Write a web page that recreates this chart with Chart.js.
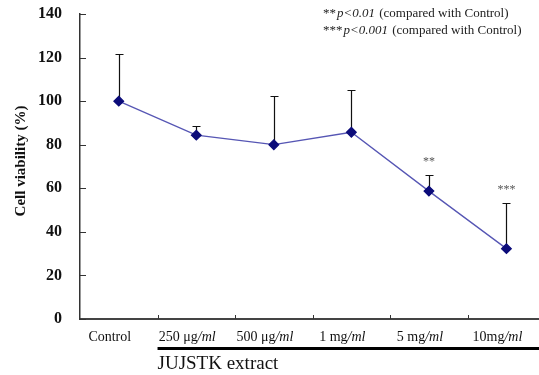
<!DOCTYPE html>
<html>
<head>
<meta charset="utf-8">
<script src="https://cdn.jsdelivr.net/npm/chart.js@4.4.0/dist/chart.umd.min.js"></script>
<style>
  html, body { margin: 0; padding: 0; background: #fff; }
  #wrap { width: 539px; height: 375px; position: relative; }
</style>
</head>
<body>
<div id="wrap"><canvas id="chart"></canvas></div>
<script>
// data
const categories = ['Control', '250 \u03bcg/ml', '500 \u03bcg/ml', '1 mg/ml', '5 mg/ml', '10mg/ml'];
const viability = [100, 84.4, 80.0, 85.7, 58.7, 32.3];
const sd = [21.5, 4, 22.3, 19.3, 7.3, 21];
const stars = ['', '', '', '', '**', '***'];
const yTicks = [0, 20, 40, 60, 80, 100, 120, 140];
const notes = [['**', 'p<0.01', ' (compared with Control)'], ['***', 'p<0.001', ' (compared with Control)']];
const yTitle = 'Cell viability (%)';
const groupLabel = 'JUJSTK extract';

const serif = '"Liberation Serif", "DejaVu Serif", serif';

// draws a label where "/ml" is set in italic
function drawCatLabel(ctx, text, cx, y) {
  let idx = text.indexOf('/ml');
  let parts = idx >= 0 ? [[text.slice(0, idx), false], [text.slice(idx), true]] : [[text, false]];
  let w = 0;
  parts.forEach(p => {
    ctx.font = (p[1] ? 'italic ' : '') + '14px ' + serif;
    w += ctx.measureText(p[0]).width;
  });
  let x = cx - w / 2;
  parts.forEach(p => {
    ctx.font = (p[1] ? 'italic ' : '') + '14px ' + serif;
    ctx.fillText(p[0], x, y);
    x += ctx.measureText(p[0]).width;
  });
}

const decor = {
  id: 'decor',
  beforeDatasetsDraw(chart) {
    const ctx = chart.ctx;
    const xs = chart.scales.x, ys = chart.scales.y;
    ctx.save();
    // error bars (upper only)
    ctx.strokeStyle = '#111';
    ctx.lineWidth = 1.2;
    viability.forEach((v, i) => {
      const x = Math.round(xs.getPixelForValue(i)) + 0.5;
      const y0 = ys.getPixelForValue(v);
      const y1 = Math.round(ys.getPixelForValue(v + sd[i])) + 0.5;
      ctx.beginPath();
      ctx.moveTo(x, y0); ctx.lineTo(x, y1);
      ctx.moveTo(x - 4, y1); ctx.lineTo(x + 4, y1);
      ctx.stroke();
    });
    ctx.restore();
  },
  afterDraw(chart) {
    const ctx = chart.ctx;
    const xs = chart.scales.x, ys = chart.scales.y;
    const a = chart.chartArea;
    ctx.save();
    ctx.strokeStyle = '#333';
    ctx.lineWidth = 1;
    // inward y ticks
    yTicks.forEach(t => {
      const y = Math.round(ys.getPixelForValue(t)) + 0.5;
      ctx.beginPath(); ctx.moveTo(a.left, y); ctx.lineTo(a.left + 6, y); ctx.stroke();
    });
    // inward x ticks between categories
    for (let i = 0; i < categories.length - 1; i++) {
      const x = Math.round(xs.getPixelForValue(i + 0.5)) + 0.5;
      ctx.beginPath(); ctx.moveTo(x, a.bottom); ctx.lineTo(x, a.bottom - 4); ctx.stroke();
    }
    // y title
    ctx.save();
    ctx.translate(21, 161);
    ctx.rotate(-Math.PI / 2);
    ctx.font = 'bold 15px ' + serif;
    ctx.fillStyle = '#111';
    ctx.textAlign = 'center';
    ctx.textBaseline = 'middle';
    ctx.fillText(yTitle, 0, 0);
    ctx.restore();
    // category labels (sit a little left of the points, as in the figure)
    ctx.fillStyle = '#111';
    ctx.textBaseline = 'middle';
    ctx.textAlign = 'left';
    categories.forEach((c, i) => drawCatLabel(ctx, c, xs.getPixelForValue(i) - 9, a.bottom + 18));
    // significance stars
    ctx.font = '12px ' + serif;
    ctx.fillStyle = '#555';
    ctx.textAlign = 'center';
    stars.forEach((s, i) => {
      if (!s) return;
      ctx.fillText(s, xs.getPixelForValue(i), ys.getPixelForValue(viability[i] + sd[i]) - 13);
    });
    // bracket bar under the extract doses
    const bx0 = xs.getPixelForValue(0.5);
    ctx.fillStyle = '#000';
    ctx.fillRect(bx0, a.bottom + 28, chart.width - bx0, 3);
    ctx.font = '19px ' + serif;
    ctx.textAlign = 'left';
    ctx.fillStyle = '#111';
    ctx.fillText(groupLabel, bx0, a.bottom + 45);
    // notes at top right
    ctx.fillStyle = '#222';
    notes.forEach((n, k) => {
      let x = 323, y = 14 + k * 17;
      ctx.font = '13px ' + serif;
      ctx.fillText(n[0], x, y); x += ctx.measureText(n[0]).width + 1;
      ctx.font = 'italic 13px ' + serif;
      ctx.fillText(n[1], x, y); x += ctx.measureText(n[1]).width + 1;
      ctx.font = '13px ' + serif;
      ctx.fillText(n[2], x, y);
    });
    ctx.restore();
  }
};

new Chart(document.getElementById('chart'), {
  type: 'line',
  data: {
    datasets: [{
      data: viability.map((v, i) => ({ x: i, y: v })),
      borderColor: '#5656b4',
      borderWidth: 1.3,
      pointStyle: 'rectRot',
      pointRadius: 4.8,
      pointBackgroundColor: '#0c0c7a',
      pointBorderColor: '#0c0c7a',
      tension: 0,
      fill: false
    }]
  },
  options: {
    responsive: true,
    maintainAspectRatio: false,
    animation: false,
    layout: { autoPadding: false, padding: { top: 14, right: 0, left: 0, bottom: 0 } },
    plugins: { legend: { display: false }, tooltip: { enabled: false } },
    scales: {
      x: {
        type: 'linear',
        min: -0.5,
        max: 5.42,
        grid: { display: false },
        border: { display: true, color: '#444', width: 2 },
        ticks: { display: false },
        afterFit(s) { s.height = 56; s.paddingLeft = 0; s.paddingRight = 0; }
      },
      y: {
        min: 0,
        max: 140,
        afterBuildTicks(s) { s.ticks = yTicks.map(v => ({ value: v })); },
        grid: { display: false },
        border: { display: true, color: '#333', width: 1.5 },
        ticks: {
          padding: 10,
          color: '#111',
          font: { family: serif, size: 16, weight: 'bold' }
        },
        afterFit(s) { s.width = 80; s.paddingTop = 0; s.paddingBottom = 0; }
      }
    }
  },
  plugins: [decor]
});
</script>
</body>
</html>
